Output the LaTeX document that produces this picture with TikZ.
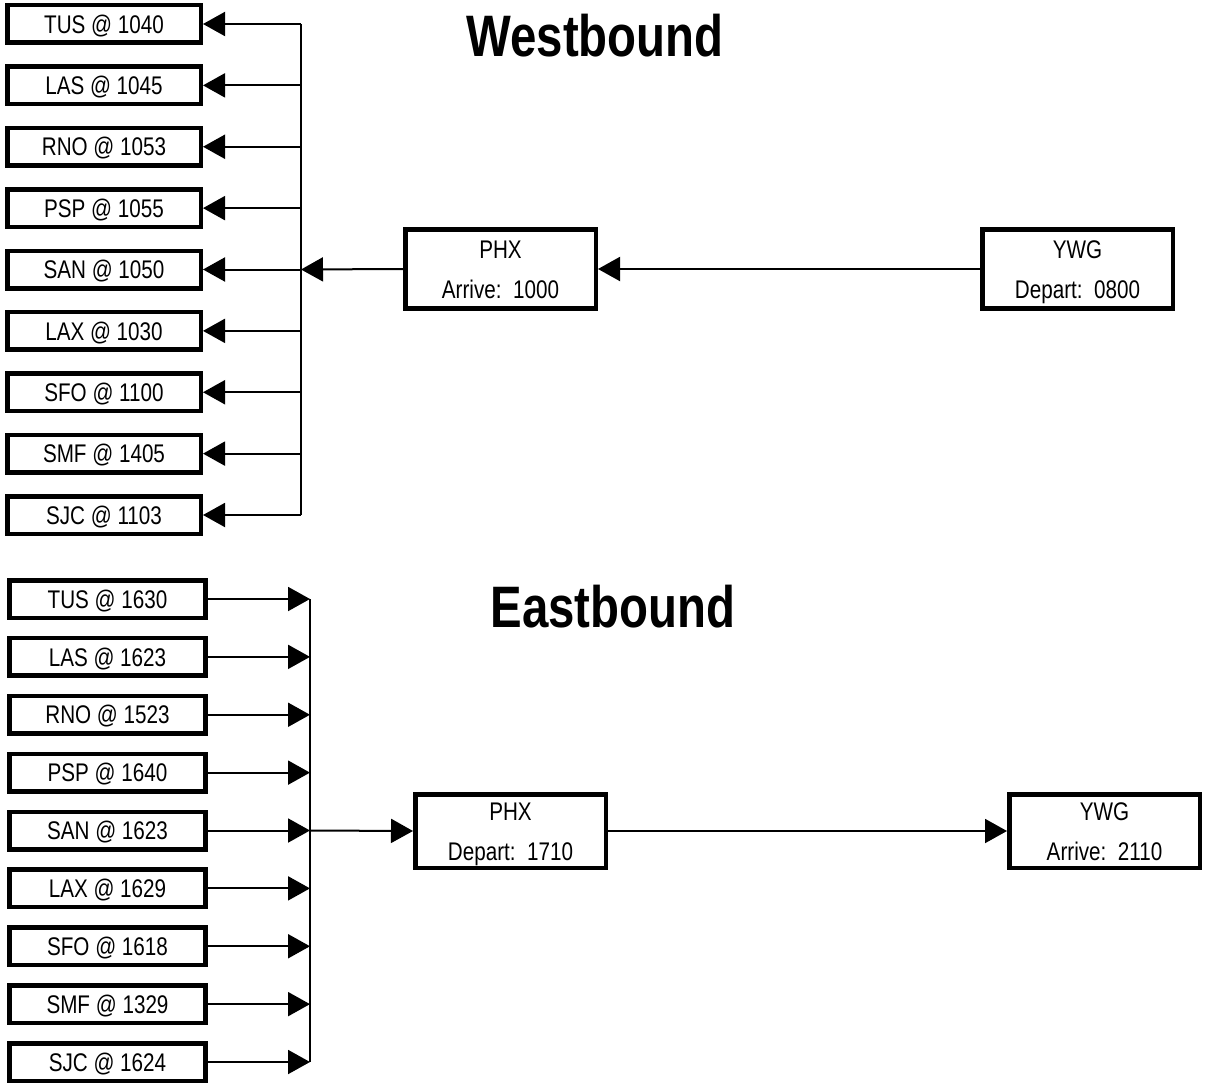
\documentclass[tikz,border=0pt]{standalone}
\usepackage{fontspec}
\newfontfamily\nar[FakeStretch=0.81]{Liberation Sans}
\usetikzlibrary{arrows.meta}
\begin{document}
\begin{tikzpicture}[x=1pt,y=-1pt,
 box/.style={draw, line width=4.5pt, inner sep=0pt, minimum width=193.5pt, minimum height=37.5pt, fill=white, text height=18.3pt, text depth=0pt, font=\nar\fontsize{25.5}{28}\selectfont},
 ebox/.style={box, minimum width=196pt},
 bigbox/.style={draw, line width=4.5pt, inner sep=0pt, fill=white, minimum width=190.5pt, minimum height=79pt, align=center, font=\nar\fontsize{25.5}{40}\selectfont},
 conn/.style={line width=2pt},
 arr/.style={conn, -{Triangle[length=22pt,width=24pt]}},
 title/.style={anchor=base, inner sep=0pt, font=\nar\bfseries\fontsize{58.5}{60}\selectfont}]
\useasboundingbox (0,0) rectangle (1206,1086);
\fill[white] (0,0) rectangle (1206,1086);
% Westbound
\node[title] (tw) at (595,57) {Westbound};
\foreach \lab [count=\i] in {TUS @ 1040, LAS @ 1045, RNO @ 1053, PSP @ 1055, SAN @ 1050, LAX @ 1030, SFO @ 1100, SMF @ 1405, SJC @ 1103} {
  \pgfmathsetmacro\yy{24+61.375*(\i-1)}
  \node[box] (w\i) at (104,\yy) {\lab};
  \coordinate (hw\i) at (301,\yy);
  \draw[arr] (hw\i) -- (w\i.east);
}
\draw[conn] (hw1) -- (hw9);
\node[bigbox] (phxw) at (500.5,269) {\rule{0pt}{24.3pt}PHX\\Arrive:\ \ 1000\vphantom{p}};
\node[bigbox] (ywgw) at (1077.5,269) {\rule{0pt}{24.3pt}YWG\\Depart:\ \ 0800};
\draw[arr] (phxw.west) -- (hw5);
\draw[arr] (ywgw.west) -- (phxw.east);
% Eastbound
\node[title] (te) at (613,627) {Eastbound};
\foreach \lab [count=\i] in {TUS @ 1630, LAS @ 1623, RNO @ 1523, PSP @ 1640, SAN @ 1623, LAX @ 1629, SFO @ 1618, SMF @ 1329, SJC @ 1624} {
  \pgfmathsetmacro\yy{599+57.875*(\i-1)}
  \node[ebox] (e\i) at (107.5,\yy) {\lab};
  \coordinate (he\i) at (310,\yy);
  \draw[arr] (e\i.east) -- (he\i);
}
\draw[conn] (he1) -- (he9);
\node[bigbox, minimum height=73.5pt] (phxe) at (510.5,831) {\rule{0pt}{24.3pt}PHX\\Depart:\ \ 1710};
\node[bigbox, minimum height=73.5pt] (ywge) at (1104.5,831) {\rule{0pt}{24.3pt}YWG\\Arrive:\ \ 2110\vphantom{p}};
\draw[arr] (he5) -- (phxe.west);
\draw[arr] (phxe.east) -- (ywge.west);
\end{tikzpicture}
\end{document}
